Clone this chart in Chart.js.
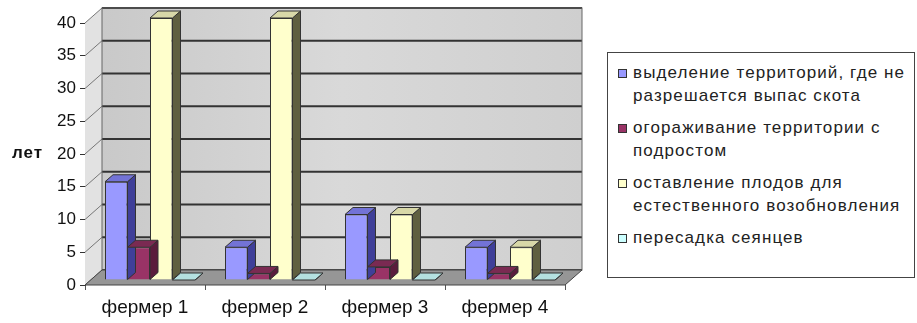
<!DOCTYPE html>
<html lang="ru">
<head>
<meta charset="UTF-8">
<title>Фермеры</title>
<script src="https://cdn.jsdelivr.net/npm/chart.js"></script>
<style>
  body { margin: 0; background: #fff; font-family: "Liberation Sans", Arial, sans-serif; }
  #wrap { position: relative; width: 917px; height: 323px; }
  #units { position: absolute; left: 12px; top: 143px; font-size: 17px; font-weight: bold; color: #111; letter-spacing: 1px; }
  #legend {
    position: absolute; left: 607px; top: 52px; width: 296px; height: 216px;
    border: 1px solid #444; padding: 8px 0 0 10px; background: #fff;
  }
  .item { display: flex; align-items: flex-start; margin-bottom: 9px; }
  .sw { flex: none; width: 7px; height: 7px; border: 1px solid #333; margin: 8px 6px 0 0; }
  .txt { white-space: pre-line; font-size: 17px; line-height: 23px; color: #222; letter-spacing: 1.1px; }
</style>
</head>
<body>
<div id="wrap">
  <canvas id="chart" width="917" height="323"></canvas>
  <div id="units">лет</div>
  <div id="legend"></div>
</div>
<script>
const farmers = ['фермер 1', 'фермер 2', 'фермер 3', 'фермер 4'];
const seriesNames = [
  'выделение территорий, где не\nразрешается выпас скота',
  'огораживание территории с\nподростом',
  'оставление плодов для\nестественного возобновления',
  'пересадка сеянцев'
];
const grazingBan = [15, 5, 10, 5];
const fencing = [5, 1, 2, 1];
const seedsLeft = [40, 40, 10, 5];
const transplant = [0, 0, 0, 0];
const yTicks = [0, 5, 10, 15, 20, 25, 30, 35, 40];

// front / side / top colours for each series
const faces = [
  { front: '#9999ff', side: '#3f3f99', top: '#7373d6' },
  { front: '#993366', side: '#5a1c3c', top: '#7a2a52' },
  { front: '#ffffcc', side: '#5f5f40', top: '#d8d8a8' },
  { front: '#ccffff', side: '#6f8f8f', top: '#b4e0e0' }
];

// oblique offsets: back wall, bar placement, bar depth
const WALL = { dx: 17, dy: -15 };
const BAR = { dx: 5, dy: -5 };
const DEPTH = { dx: 8, dy: -7 };

const depth3d = {
  id: 'depth3d',
  beforeDatasetsDraw(chart) {
    const { ctx, chartArea: a } = chart;
    const y = chart.scales.y;
    ctx.save();
    // left side wall
    ctx.fillStyle = '#e2e2e2';
    ctx.beginPath();
    ctx.moveTo(a.left, a.top);
    ctx.lineTo(a.left + WALL.dx, a.top + WALL.dy);
    ctx.lineTo(a.left + WALL.dx, a.bottom + WALL.dy);
    ctx.lineTo(a.left, a.bottom);
    ctx.closePath();
    ctx.fill();
    // back wall
    const g = ctx.createLinearGradient(a.left + WALL.dx, 0, a.right + WALL.dx, 0);
    g.addColorStop(0, '#c9c9c9');
    g.addColorStop(0.5, '#d9d9d9');
    g.addColorStop(1, '#cfcfcf');
    ctx.fillStyle = g;
    ctx.fillRect(a.left + WALL.dx, a.top + WALL.dy, a.right - a.left, a.bottom - a.top);
    // grid lines on the wall and the diagonals on the side wall
    yTicks.forEach(v => {
      const py = y.getPixelForValue(v);
      ctx.strokeStyle = '#333';
      ctx.lineWidth = 1.8;
      ctx.beginPath();
      ctx.moveTo(a.left + WALL.dx, py + WALL.dy);
      ctx.lineTo(a.right + WALL.dx, py + WALL.dy);
      ctx.stroke();
      ctx.strokeStyle = '#777';
      ctx.lineWidth = 1;
      ctx.beginPath();
      ctx.moveTo(a.left, py);
      ctx.lineTo(a.left + WALL.dx, py + WALL.dy);
      ctx.stroke();
    });
    ctx.strokeStyle = '#666';
    ctx.lineWidth = 1;
    ctx.strokeRect(a.left + WALL.dx, a.top + WALL.dy, a.right - a.left, a.bottom - a.top);
    // floor
    ctx.fillStyle = '#969696';
    ctx.beginPath();
    ctx.moveTo(a.left, a.bottom);
    ctx.lineTo(a.left + WALL.dx, a.bottom + WALL.dy);
    ctx.lineTo(a.right + WALL.dx, a.bottom + WALL.dy);
    ctx.lineTo(a.right, a.bottom);
    ctx.closePath();
    ctx.fill();
    ctx.strokeStyle = '#444';
    ctx.stroke();
    ctx.restore();
    ctx.save();
    ctx.translate(BAR.dx, BAR.dy);
  },
  afterDatasetsDraw(chart) {
    const { ctx } = chart;
    // still translated from beforeDatasetsDraw
    ctx.lineWidth = 1;
    ctx.strokeStyle = '#333';
    farmers.forEach((_, i) => {
      chart.data.datasets.forEach((ds, j) => {
        const el = chart.getDatasetMeta(j).data[i];
        const l = el.x - el.width / 2, r = el.x + el.width / 2;
        const top = el.y, base = el.base;
        const f = faces[j];
        ctx.fillStyle = f.side;
        ctx.beginPath();
        ctx.moveTo(r, top);
        ctx.lineTo(r + DEPTH.dx, top + DEPTH.dy);
        ctx.lineTo(r + DEPTH.dx, base + DEPTH.dy);
        ctx.lineTo(r, base);
        ctx.closePath();
        ctx.fill();
        ctx.stroke();
        ctx.fillStyle = f.top;
        ctx.beginPath();
        ctx.moveTo(l, top);
        ctx.lineTo(l + DEPTH.dx, top + DEPTH.dy);
        ctx.lineTo(r + DEPTH.dx, top + DEPTH.dy);
        ctx.lineTo(r, top);
        ctx.closePath();
        ctx.fill();
        ctx.stroke();
      });
    });
    ctx.restore();
  }
};

const series = [grazingBan, fencing, seedsLeft, transplant];

const chart = new Chart(document.getElementById('chart'), {
  type: 'bar',
  data: {
    labels: farmers,
    datasets: series.map((vals, j) => ({
      label: seriesNames[j],
      data: vals,
      backgroundColor: faces[j].front,
      borderColor: '#333',
      borderWidth: 1,
      clip: false,
      categoryPercentage: 0.75,
      barPercentage: 1
    }))
  },
  options: {
    responsive: false,
    animation: false,
    layout: { padding: { left: 0, right: 352, top: 23, bottom: 0 } },
    plugins: { legend: { display: false }, tooltip: { enabled: false } },
    scales: {
      x: {
        grid: { display: true, drawOnChartArea: false, tickLength: 5, color: '#555', offset: true },
        border: { display: false },
        ticks: { color: '#111', font: { family: 'Liberation Sans', size: 19 }, padding: 6 },
        afterFit(scale) { scale.height = 38; }
      },
      y: {
        min: 0,
        max: 40,
        grid: { drawOnChartArea: false, tickLength: 5, color: '#333' },
        border: { display: true, color: '#333', width: 1 },
        ticks: { stepSize: 5, color: '#111', font: { family: 'Liberation Sans', size: 17 }, padding: 4 },
        afterFit(scale) { scale.width = 85; }
      }
    }
  },
  plugins: [depth3d]
});

// legend box built from the series
const legend = document.getElementById('legend');
seriesNames.forEach((name, j) => {
  const item = document.createElement('div');
  item.className = 'item';
  const sw = document.createElement('span');
  sw.className = 'sw';
  sw.style.background = faces[j].front;
  const txt = document.createElement('span');
  txt.className = 'txt';
  txt.textContent = name;
  item.appendChild(sw);
  item.appendChild(txt);
  legend.appendChild(item);
});
</script>
</body>
</html>
